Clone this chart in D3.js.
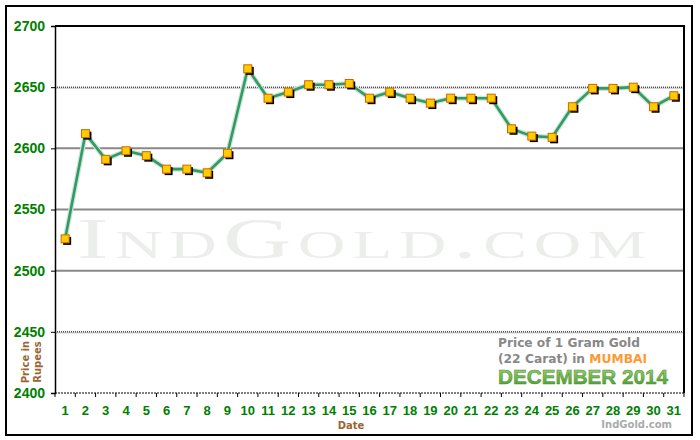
<!DOCTYPE html>
<html><head><meta charset="utf-8">
<script src="https://cdn.jsdelivr.net/npm/d3@7"></script>
<style>body{margin:0;background:#fff}svg{display:block}</style>
</head><body>
<script>
const days = d3.range(1, 32);
const prices = [2526,2612,2591,2598,2594,2583,2583,2580,2596,2665,2641,2646,2652,2652,2653,2641,2646,2641,2637,2641,2641,2641,2616,2610,2609,2634,2649,2649,2650,2634,2643];
const yTicks = [2400,2450,2500,2550,2600,2650,2700];
const dottedLines = [2450,2650];
const solidLines = [2500,2550,2600];

const W = 700, H = 440;
const m = {l:55, t:26, r:684, b:393};
const svg = d3.select("body").append("svg").attr("width", W).attr("height", H);

// outer border
svg.append("rect").attr("x",6).attr("y",6).attr("width",686).attr("height",429)
  .attr("fill","#fff").attr("stroke","#000").attr("stroke-width",2);

const x = d3.scaleBand().domain(days).range([m.l, m.r]);
const y = d3.scaleLinear().domain([2400,2700]).range([m.b, m.t]);

// watermark
svg.append("text").attr("x", 77).attr("y", 258).text("IndGold.com")
  .attr("font-family","Liberation Serif, serif").attr("font-size",56)
  .style("font-variant","small-caps").attr("fill","#ebeeea")
  .attr("letter-spacing",4)
  .attr("textLength",576).attr("lengthAdjust","spacingAndGlyphs");

// gridlines
solidLines.forEach(v=>{
  svg.append("line").attr("x1",m.l).attr("x2",m.r).attr("y1",y(v)).attr("y2",y(v))
    .attr("stroke","#888").attr("stroke-width",2);
});
dottedLines.forEach(v=>{
  svg.append("line").attr("x1",m.l).attr("x2",m.r).attr("y1",y(v)+1).attr("y2",y(v)+1)
    .attr("stroke","#bbb").attr("stroke-width",1);
  svg.append("line").attr("x1",m.l).attr("x2",m.r).attr("y1",y(v)).attr("y2",y(v))
    .attr("stroke","#000").attr("stroke-width",1).attr("stroke-dasharray","1,1");
});

// plot frame: top, right solid
svg.append("line").attr("x1",m.l).attr("x2",m.r).attr("y1",m.t).attr("y2",m.t).attr("stroke","#000").attr("stroke-width",2);
svg.append("line").attr("x1",m.r).attr("x2",m.r).attr("y1",m.t-1).attr("y2",m.b).attr("stroke","#000").attr("stroke-width",2);

// y axis
const yAxis = svg.append("g").attr("transform",`translate(${m.l},0)`)
  .call(d3.axisLeft(y).tickValues(yTicks).tickSize(4).tickPadding(6).tickFormat(d3.format("d")));
yAxis.select(".domain").attr("stroke","#000").attr("stroke-width",1.5);
yAxis.selectAll("text").attr("fill","#008000").attr("font-family","Liberation Sans, Arial, sans-serif")
  .attr("font-weight","bold").attr("font-size",14);

// x axis
const xAxis = svg.append("g").attr("transform",`translate(0,${m.b})`)
  .call(d3.axisBottom(x).tickSize(0).tickPadding(13));
xAxis.select(".domain").remove();
xAxis.selectAll("text").attr("fill","#008000").attr("font-family","Liberation Sans, Arial, sans-serif")
  .attr("font-weight","bold").attr("font-size",13);
svg.append("line").attr("x1",m.l).attr("x2",m.r).attr("y1",m.b).attr("y2",m.b)
  .attr("stroke","#000").attr("stroke-width",1).attr("stroke-dasharray","2,1");
svg.append("g").selectAll("line").data(days).join("line")
  .attr("x1",d=>x(d)).attr("x2",d=>x(d)).attr("y1",m.b).attr("y2",m.b+4)
  .attr("stroke","#000").attr("stroke-width",1);
svg.append("line").attr("x1",m.r).attr("x2",m.r).attr("y1",m.b).attr("y2",m.b+4).attr("stroke","#000");

// line
const cx = d => x(d) + x.bandwidth()/2;
const line = d3.line().x((d,i)=>cx(days[i])).y(d=>y(d));
svg.append("path").datum(prices).attr("d",line).attr("fill","none")
  .attr("stroke","#c9e6d4").attr("stroke-width",5).attr("stroke-linejoin","round");
svg.append("path").datum(prices).attr("d",line).attr("fill","none")
  .attr("stroke","#339966").attr("stroke-width",2.6).attr("stroke-linejoin","round");

// markers
const s = 8;
svg.append("g").selectAll("rect").data(prices).join("rect")
  .attr("x",(d,i)=>cx(days[i])-s/2+2).attr("y",d=>y(d)-s/2+2).attr("width",s).attr("height",s)
  .attr("fill","#000");
svg.append("g").selectAll("rect").data(prices).join("rect")
  .attr("x",(d,i)=>cx(days[i])-s/2).attr("y",d=>y(d)-s/2).attr("width",s).attr("height",s)
  .attr("fill","#ffcc00").attr("stroke","#cc6600").attr("stroke-width",1);

// axis titles
svg.append("text").attr("x",351).attr("y",429).attr("text-anchor","middle").text("Date")
  .attr("fill","#996633").attr("font-family","Verdana, DejaVu Sans, sans-serif").attr("font-weight","bold").attr("font-size",10);
const yl = svg.append("g").attr("transform","translate(0,362) rotate(-90)");
yl.append("text").attr("x",0).attr("y",29).attr("text-anchor","middle").text("Price in")
  .attr("fill","#996633").attr("font-family","Verdana, DejaVu Sans, sans-serif").attr("font-weight","bold").attr("font-size",10);
yl.append("text").attr("x",0).attr("y",41).attr("text-anchor","middle").text("Rupees")
  .attr("fill","#996633").attr("font-family","Verdana, DejaVu Sans, sans-serif").attr("font-weight","bold").attr("font-size",10);

// caption
const ff = "Verdana, DejaVu Sans, sans-serif";
svg.append("text").attr("x",498).attr("y",347).text("Price of 1 Gram Gold")
  .attr("fill","#888").attr("font-family",ff).attr("font-weight","bold").attr("font-size",11.5)
  .attr("textLength",142).attr("lengthAdjust","spacingAndGlyphs");
const t2 = svg.append("text").attr("x",498).attr("y",363)
  .attr("font-family",ff).attr("font-weight","bold").attr("font-size",11.5)
  .attr("textLength",149).attr("lengthAdjust","spacingAndGlyphs");
t2.append("tspan").text("(22 Carat) in ").attr("fill","#888");
t2.append("tspan").text("MUMBAI").attr("fill","#ff9933");

const defs = svg.append("defs");
const g = defs.append("linearGradient").attr("id","gg").attr("x1",0).attr("y1",0).attr("x2",0).attr("y2",1);
g.append("stop").attr("offset","0%").attr("stop-color","#a8d878");
g.append("stop").attr("offset","100%").attr("stop-color","#3f9a2a");
svg.append("text").attr("x",498).attr("y",384).text("DECEMBER 2014")
  .attr("fill","url(#gg)").attr("stroke","#4f8a30").attr("stroke-width",0.5)
  .attr("font-family","Liberation Sans, Arial, sans-serif").attr("font-weight","bold").attr("font-size",21)
  .attr("textLength",170).attr("lengthAdjust","spacingAndGlyphs");

svg.append("text").attr("x",672).attr("y",428).attr("text-anchor","end").text("IndGold.com")
  .attr("fill","#aaa").attr("font-family",ff).attr("font-weight","bold").attr("font-size",10);
</script>
</body></html>
